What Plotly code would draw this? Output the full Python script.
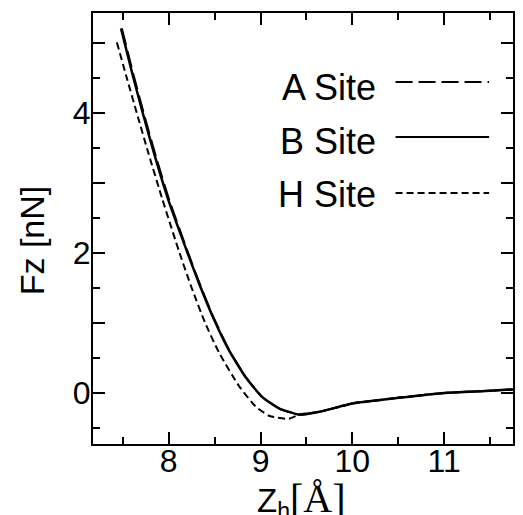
import plotly.graph_objects as go

# ---- data ----
B_x = [7.48, 7.60, 7.717, 7.85, 8.00, 8.205, 8.335, 8.48, 8.66, 8.84, 9.02, 9.20, 9.42, 9.64, 9.85, 10.0, 10.5, 11.0, 11.5, 11.75]
B_y = [5.21, 4.58, 4.00, 3.38, 2.74, 2.00, 1.55, 1.09, 0.60, 0.22, -0.06, -0.22, -0.31, -0.27, -0.20, -0.15, -0.07, 0.00, 0.03, 0.05]

A_x = [7.49, 7.61, 7.727, 7.86, 8.01, 8.212, 8.34, 8.484, 8.663, 8.842, 9.02, 9.20, 9.42, 9.64, 9.85, 10.0, 10.5, 11.0, 11.5, 11.75]
A_y = [5.21, 4.58, 4.00, 3.38, 2.74, 2.00, 1.55, 1.09, 0.60, 0.22, -0.06, -0.22, -0.31, -0.27, -0.20, -0.15, -0.07, 0.00, 0.03, 0.05]

H_x = [7.435, 7.55, 7.652, 7.78, 7.93, 8.118, 8.25, 8.40, 8.55, 8.77, 8.95, 9.10, 9.31, 9.42, 9.64, 9.85, 10.0, 10.5, 11.0, 11.5, 11.75]
H_y = [5.01, 4.47, 4.00, 3.42, 2.77, 2.00, 1.50, 0.99, 0.57, 0.09, -0.20, -0.33, -0.37, -0.31, -0.27, -0.20, -0.15, -0.07, 0.00, 0.03, 0.05]

x_ticks = [8, 9, 10, 11]
y_tickvals = [0, 1, 2, 3, 4, 5]
y_ticktext = ["0", "", "2", "", "4", ""]
legend_names = ["A Site", "B Site", "H Site"]

FONT = "Liberation Sans, Arial, Helvetica, sans-serif"
SERIF = "'Liberation Serif', 'Times New Roman', serif"

# plot-area geometry in pixels (for paper-coordinate conversions)
W, H = 523, 515
L, R, T, Bm = 93, 8, 13, 71
PW, PH = W - L - R, H - T - Bm


def px(x):
    return (x - L) / PW


def py(y):
    return (H - Bm - y) / PH


fig = go.Figure()
fig.add_trace(go.Scatter(x=H_x, y=H_y, mode="lines", name="H Site",
                         line=dict(color="black", width=2, dash="7px,4px", shape="spline", smoothing=0.5)))
fig.add_trace(go.Scatter(x=A_x, y=A_y, mode="lines", name="A Site",
                         line=dict(color="black", width=2, dash="17px,6px", shape="spline", smoothing=0.5)))
fig.add_trace(go.Scatter(x=B_x, y=B_y, mode="lines", name="B Site",
                         line=dict(color="black", width=2.5, shape="spline", smoothing=0.5)))

axis_common = dict(
    showline=True, linecolor="black", linewidth=2, mirror="allticks",
    ticks="inside", ticklen=12, tickwidth=2, tickcolor="black",
    showgrid=False, zeroline=False,
    tickfont=dict(family=FONT, size=32, color="black"),
)

fig.update_xaxes(range=[7.175, 11.75], tickvals=x_ticks,
                 minor=dict(dtick=0.5, ticks="inside", ticklen=7, tickwidth=2, tickcolor="black"),
                 ticklabelstandoff=-12, **axis_common)
fig.update_yaxes(range=[-0.73, 5.43], tickvals=y_tickvals, ticktext=y_ticktext,
                 minor=dict(dtick=0.5, ticks="inside", ticklen=7, tickwidth=2, tickcolor="black"),
                 ticklabelstandoff=-6, **axis_common)

annotations = [
    dict(text="Fz [nN]", textangle=-90, xref="paper", yref="paper",
         x=px(32), y=py(240), xanchor="center", yanchor="middle", showarrow=False,
         font=dict(family=FONT, size=34, color="black")),
    dict(text="Z<sub>h</sub><span style=\"font-family:" + SERIF + "; font-size:40px\">[Å]</span>",
         xref="paper", yref="paper", x=px(302), y=py(500), xanchor="center", yanchor="middle",
         showarrow=False, font=dict(family=FONT, size=33, color="black")),
]
legend_text_y = [87, 142, 194]
legend_line_y = [82, 137, 193]
legend_dash = ["17px,6px", "solid", "7px,4px"]
shapes = []
for name, ty, ly, d in zip(legend_names, legend_text_y, legend_line_y, legend_dash):
    annotations.append(dict(text=name, xref="paper", yref="paper", x=px(379), y=py(ty),
                            xanchor="right", yanchor="middle", showarrow=False,
                            font=dict(family=FONT, size=36, color="black")))
    shapes.append(dict(type="line", xref="paper", yref="paper", x0=px(397), x1=px(491),
                       y0=py(ly), y1=py(ly), line=dict(color="black", width=2, dash=d)))

fig.update_layout(
    width=W, height=H, margin=dict(l=L, r=R, t=T, b=Bm, pad=0),
    paper_bgcolor="white", plot_bgcolor="white", showlegend=False,
    annotations=annotations, shapes=shapes,
    font=dict(family=FONT, color="black"),
)

fig.write_html("out.html", config={"displayModeBar": False},
               post_script="document.body.style.margin='0';")
